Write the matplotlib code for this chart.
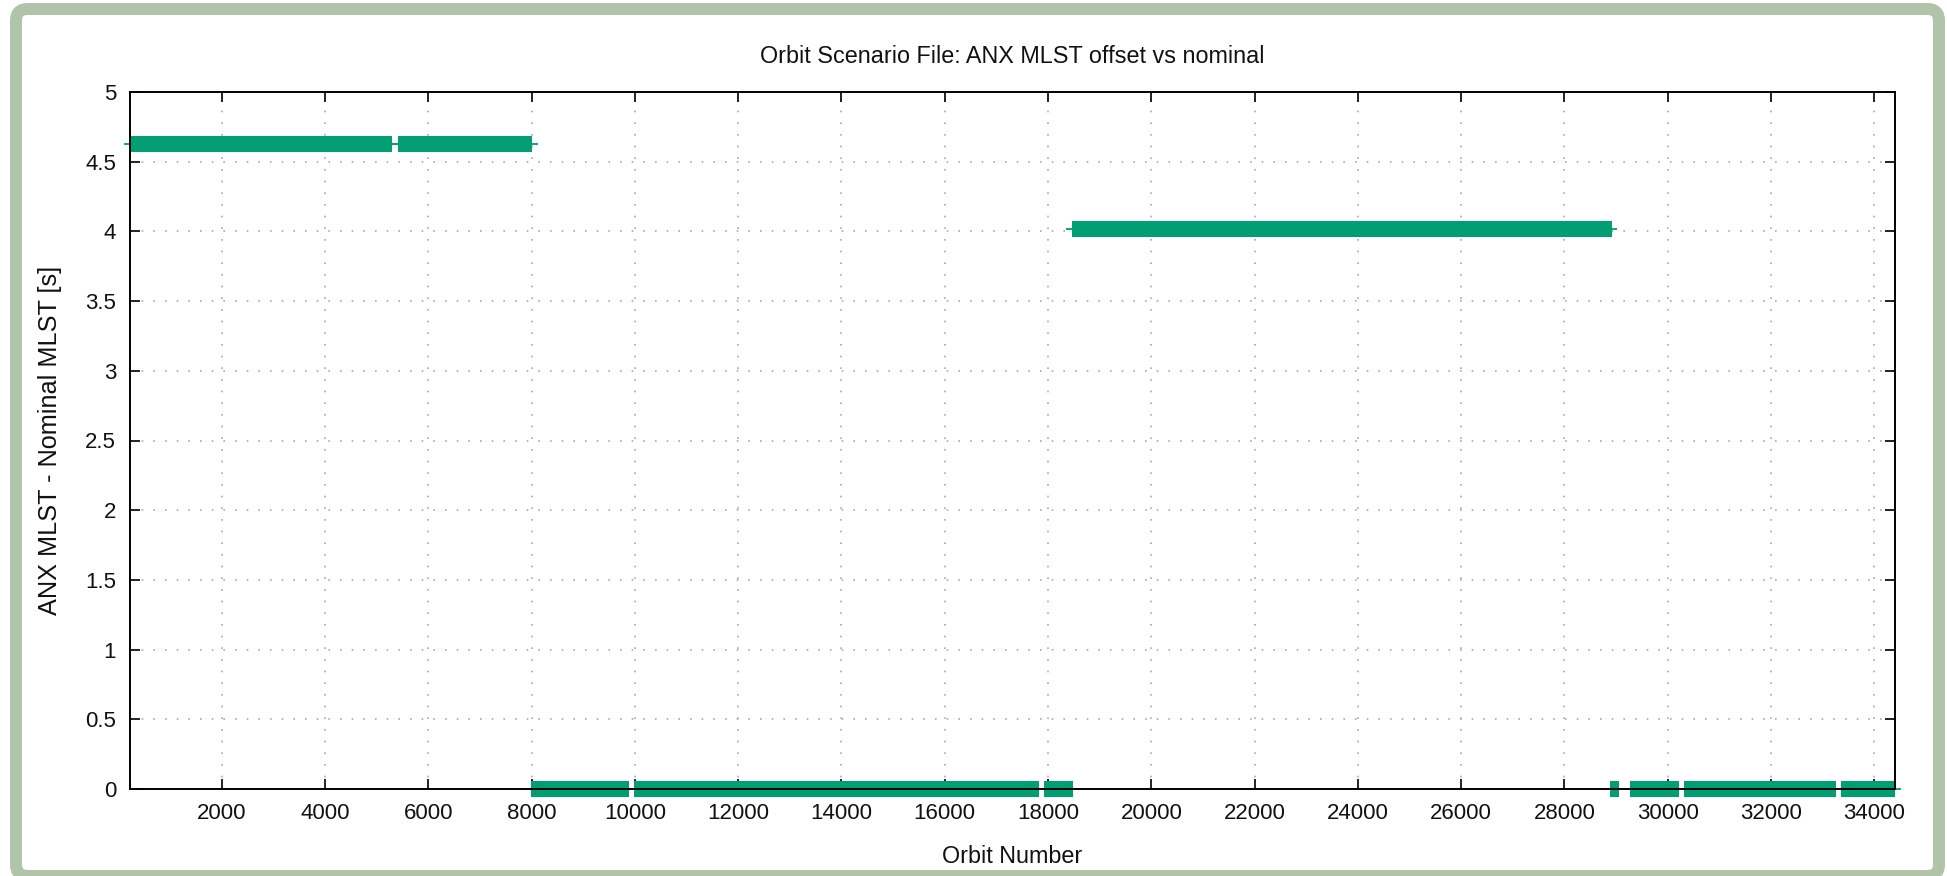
import matplotlib
matplotlib.use("Agg")
import matplotlib.pyplot as plt
from matplotlib.patches import FancyBboxPatch
from matplotlib.ticker import FuncFormatter

# ---- data ----
seg_start = [224, 5409, 7983, 9978, 17931, 18464, 28889, 29264, 30310, 33358]
seg_end   = [5304, 8016, 9895, 17821, 18487, 28915, 29063, 30213, 33267, 34400]
seg_level = [4.63, 4.63, 0.0, 0.0, 0.0, 4.02, 0.0, 0.0, 0.0, 0.0]

x_ticks = list(range(2000, 34001, 2000))
y_ticks = [0, 0.5, 1, 1.5, 2, 2.5, 3, 3.5, 4, 4.5, 5]

title = "Orbit Scenario File: ANX MLST offset vs nominal"
xlabel = "Orbit Number"
ylabel = "ANX MLST - Nominal MLST [s]"

# ---- style ----
plt.rcParams['font.family'] = ['Liberation Sans', 'DejaVu Sans']
GREEN = '#009e73'
SAGE = '#afc4a8'
W, H, DPI = 1947, 876, 100

fig = plt.figure(figsize=(W / DPI, H / DPI), dpi=DPI)
fig.patch.set_facecolor('white')

# rounded sage frame around the figure
frame = FancyBboxPatch((16 / W, 0.0), (1939 - 16) / W, (H - 9) / H,
                       boxstyle="round,pad=0,rounding_size=0.006",
                       transform=fig.transFigure, facecolor='none',
                       edgecolor=SAGE, linewidth=12 * 72 / DPI,
                       mutation_aspect=W / H, zorder=0)
fig.patches.append(frame)

ax = fig.add_axes([130 / W, (H - 789) / H, (1895 - 130) / W, (789 - 92) / H])

pad = 110  # thin line overhang
for s, e, lv in zip(seg_start, seg_end, seg_level):
    ax.plot([s - pad, e + pad], [lv, lv], color=GREEN, lw=1.3,
            solid_capstyle='butt', clip_on=False, zorder=2)
    ax.plot([s, e], [lv, lv], color=GREEN, lw=16 * 72 / DPI,
            solid_capstyle='butt', clip_on=False, zorder=2)

ax.set_xlim(224, 34400)
ax.set_ylim(0, 5)
ax.set_xticks(x_ticks)
ax.set_yticks(y_ticks)
ax.yaxis.set_major_formatter(FuncFormatter(lambda v, p: f"{v:g}"))

ax.grid(True, color='#aaaaaa', linestyle=(0, (1, 6)), linewidth=1.2)
ax.set_axisbelow(True)

for sp in ax.spines.values():
    sp.set_linewidth(1.4)
    sp.set_color('black')
    sp.set_zorder(3)

ax.tick_params(direction='in', length=7, width=1.3, top=True, right=True,
               labelsize=16, colors='#111111')
ax.tick_params(axis='x', pad=10)
ax.tick_params(axis='y', pad=10)

ax.set_title(title, fontsize=16.8, pad=21, color='#111111')
ax.set_xlabel(xlabel, fontsize=16.8, labelpad=15, color='#111111')
ax.set_ylabel(ylabel, fontsize=18.2, color='#111111')
ax.yaxis.set_label_coords(-0.0385, 0.5)

fig.savefig("out.png", dpi=DPI, facecolor='white')
